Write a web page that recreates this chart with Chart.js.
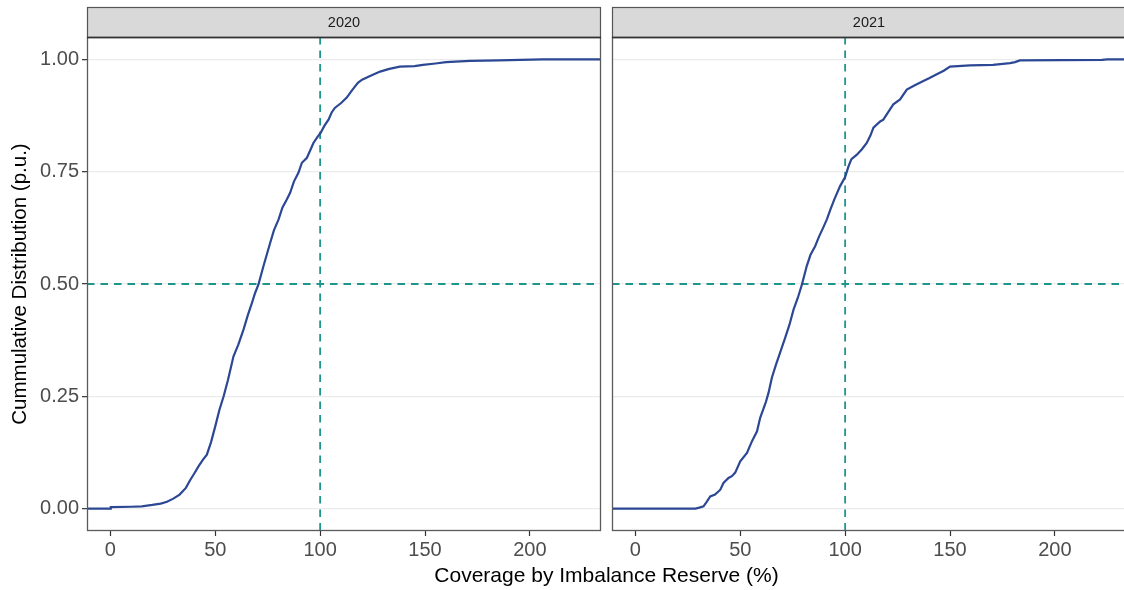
<!DOCTYPE html>
<html>
<head>
<meta charset="utf-8">
<script src="https://cdn.jsdelivr.net/npm/chart.js@4/dist/chart.umd.min.js"></script>
<style>
  html, body { margin:0; padding:0; background:#fff; overflow:hidden; }
  #wrap { position:relative; width:1124px; height:590px; overflow:hidden; background:#fff; }
  canvas { position:absolute; top:0; }
  #xtitle { position:absolute; left:87px; width:1039px; top:562px; text-align:center;
            font-family:"Liberation Sans", Arial, sans-serif; font-size:21px; line-height:25px; color:#000; }
</style>
</head>
<body>
<div id="wrap">
  <canvas id="c1" width="606" height="590" style="left:0px"></canvas>
  <canvas id="c2" width="520" height="590" style="left:606px"></canvas>
  <div id="xtitle">Coverage by Imbalance Reserve (%)</div>
</div>
<script>
// ---- data ----
const panels = ['2020', '2021'];
const xLimits = [-11.14, 233.9];
const yLimits = [-0.05, 1.05];
const xTicks = [0, 50, 100, 150, 200];
const yTicks = [0, 0.25, 0.5, 0.75, 1];
const refX = 100;
const refY = 0.5;

const cov2020 = [-11.14, 0, 0.2, 10, 15, 20, 24, 27, 30, 33, 36, 38, 40, 42, 44, 46, 48, 50, 52, 54, 56,
  58.7, 61, 63.5, 65.5, 67.5, 69, 70.6, 73, 76.2, 78, 80.2, 82, 84.1, 85.7, 87.5, 89.7, 91.3, 93.7, 95.5,
  96.8, 98.5, 100.3, 102, 104, 105.5, 107, 110, 112.7, 115, 118, 120, 123.8, 128.6, 133, 138, 145, 149,
  155, 160, 171.4, 185, 206, 233.9];
const cdf2020 = [0, 0, 0.003, 0.004, 0.005, 0.008, 0.011, 0.015, 0.022, 0.031, 0.046, 0.063, 0.078, 0.094,
  0.108, 0.12, 0.148, 0.183, 0.22, 0.25, 0.285, 0.339, 0.365, 0.399, 0.43, 0.458, 0.48, 0.499, 0.54, 0.592,
  0.62, 0.644, 0.67, 0.688, 0.703, 0.728, 0.748, 0.77, 0.781, 0.8, 0.814, 0.826, 0.837, 0.852, 0.866, 0.882,
  0.892, 0.903, 0.915, 0.93, 0.948, 0.955, 0.963, 0.973, 0.979, 0.984, 0.985, 0.988, 0.991, 0.994, 0.997,
  0.998, 1.0, 1.0];

const cov2021 = [-11.14, 28.6, 30.5, 32.5, 34, 35.7, 38, 40.5, 42, 44.4, 46, 47.6, 50, 53.2, 55.6, 58, 59.5,
  62.2, 63.5, 65.1, 67, 69, 71.4, 73.5, 75.4, 77.5, 79.4, 81.7, 83.5, 85.7, 87.5, 89.5, 91.3, 93, 95, 97.6,
  100, 101.6, 103, 105.6, 108, 110.3, 112, 113.5, 116.7, 118.2, 121.4, 123, 126.2, 129.4, 133, 137.3, 140,
  143.7, 147, 150, 159.5, 170.5, 178.6, 181, 183.3, 222.4, 225, 233.9];
const cdf2021 = [0, 0, 0.002, 0.005, 0.015, 0.027, 0.031, 0.042, 0.057, 0.068, 0.072, 0.08, 0.105, 0.124,
  0.15, 0.172, 0.202, 0.237, 0.258, 0.292, 0.32, 0.347, 0.38, 0.41, 0.443, 0.47, 0.499, 0.54, 0.565, 0.584,
  0.605, 0.625, 0.644, 0.666, 0.69, 0.718, 0.738, 0.762, 0.778, 0.788, 0.8, 0.814, 0.83, 0.848, 0.862,
  0.866, 0.889, 0.9, 0.911, 0.933, 0.942, 0.952, 0.958, 0.967, 0.975, 0.984, 0.987, 0.988, 0.992, 0.994,
  0.998, 0.999, 1.0, 1.0];

// ---- styles ----
const FONT = '"Liberation Sans", Arial, sans-serif';
const LINE_COLOR = '#2c4894';
const REF_COLOR = '#1f968b';

const facetPlugin = {
  id: 'facet',
  beforeDatasetsDraw(chart) {
    const { ctx, chartArea: a, scales } = chart;
    ctx.save();
    ctx.beginPath();
    ctx.rect(a.left, a.top, a.right - a.left, a.bottom - a.top);
    ctx.clip();
    ctx.strokeStyle = REF_COLOR;
    ctx.lineWidth = 1.8;
    ctx.setLineDash([7.5, 6]);
    const px = scales.x.getPixelForValue(refX);
    ctx.beginPath();
    ctx.moveTo(px, a.top);
    ctx.lineTo(px, a.bottom);
    ctx.stroke();
    const py = scales.y.getPixelForValue(refY);
    ctx.beginPath();
    ctx.moveTo(a.left, py);
    ctx.lineTo(a.right, py);
    ctx.stroke();
    ctx.restore();
  },
  afterDraw(chart, args, opts) {
    const { ctx, chartArea: a } = chart;
    ctx.save();
    // strip
    const sh = 30;
    ctx.fillStyle = '#d9d9d9';
    ctx.fillRect(a.left, a.top - sh, a.right - a.left, sh);
    ctx.strokeStyle = '#555555';
    ctx.lineWidth = 1.2;
    ctx.strokeRect(a.left + 0.5, a.top - sh + 0.5, a.right - a.left - 1, sh);
    ctx.fillStyle = '#1a1a1a';
    ctx.font = '14.5px ' + FONT;
    ctx.textAlign = 'center';
    ctx.textBaseline = 'middle';
    ctx.fillText(opts.label, (a.left + a.right) / 2, a.top - sh / 2 + 1);
    // panel border
    ctx.strokeStyle = '#5a5a5a';
    ctx.lineWidth = 1.3;
    ctx.strokeRect(a.left + 0.5, a.top + 0.5, a.right - a.left - 1, a.bottom - a.top - 1);
    ctx.strokeStyle = '#333333';
    ctx.lineWidth = 1.5;
    ctx.beginPath();
    ctx.moveTo(a.left, a.top + 0.5);
    ctx.lineTo(a.right, a.top + 0.5);
    ctx.stroke();
    ctx.restore();
  }
};

function makeChart(id, label, xs, ys, showY, pad) {
  const pts = xs.map((x, i) => ({ x: x, y: ys[i] }));
  return new Chart(document.getElementById(id), {
    type: 'line',
    data: { datasets: [{ data: pts, borderColor: LINE_COLOR, borderWidth: 2.2, pointRadius: 0, tension: 0, fill: false }] },
    options: {
      responsive: false, animation: false, devicePixelRatio: 1,
      layout: { padding: pad },
      plugins: { legend: { display: false }, tooltip: { enabled: false }, facet: { label: label } },
      scales: {
        x: {
          type: 'linear', min: xLimits[0], max: xLimits[1],
          afterBuildTicks: s => { s.ticks = xTicks.map(v => ({ value: v })); },
          afterFit: s => { s.height = 59; },
          ticks: { font: { family: FONT, size: 20 }, color: '#4d4d4d', padding: 2, maxRotation: 0, autoSkip: false },
          grid: { drawOnChartArea: false, drawTicks: true, tickLength: 5, tickColor: '#333333', tickWidth: 1.2 },
          border: { display: false }
        },
        y: {
          type: 'linear', min: yLimits[0], max: yLimits[1],
          afterBuildTicks: s => { s.ticks = yTicks.map(v => ({ value: v })); },
          afterFit: s => { s.width = showY ? 87 : 6; },
          ticks: { display: showY, font: { family: FONT, size: 20 }, color: '#4d4d4d', padding: 3,
                   callback: v => Number(v).toFixed(2) },
          grid: { color: '#ebebeb', lineWidth: 1.3, drawTicks: showY, tickLength: 5, tickColor: '#333333', tickWidth: 1.2 },
          border: { display: false },
          title: { display: showY, text: 'Cummulative Distribution (p.u.)', font: { family: FONT, size: 20.5 }, color: '#000', padding: { top: 8, bottom: 0 } }
        }
      }
    },
    plugins: [facetPlugin]
  });
}

makeChart('c1', panels[0], cov2020, cdf2020, true, { top: 37, left: 0, right: 5, bottom: 0 });
makeChart('c2', panels[1], cov2021, cdf2021, false, { top: 37, left: 0, right: 0, bottom: 0 });
</script>
</body>
</html>
